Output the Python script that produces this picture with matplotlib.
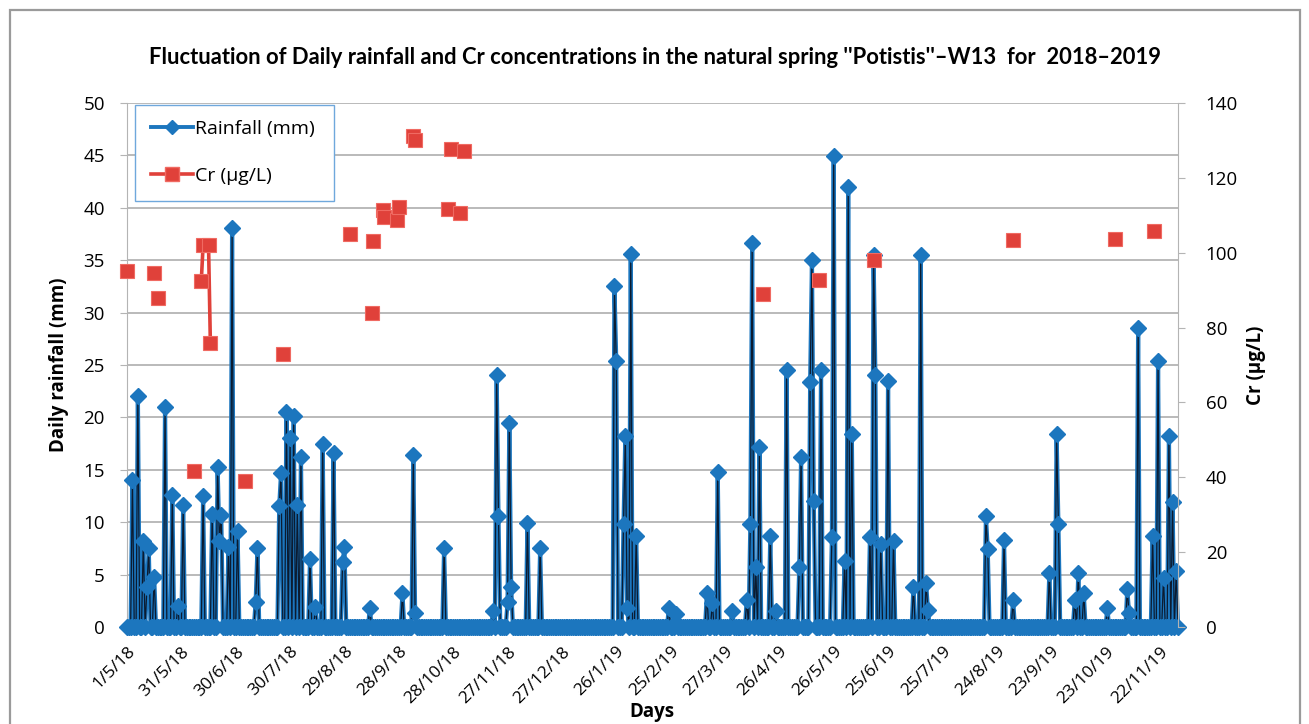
import numpy as np
import pandas as pd
import matplotlib
matplotlib.use("Agg")
import matplotlib.pyplot as plt
from matplotlib.lines import Line2D
from matplotlib.patches import Rectangle

# daily record starts 1 May 2018; days are counted from that date
start = pd.Timestamp("2018-05-01")
n_days = 581

# rainy days (day number, mm); all other days are 0 mm
rain_day = [3, 6, 9, 11, 12, 15, 21, 25, 28, 31, 42, 47, 50, 51, 52, 56, 58, 61, 71, 72,
            84, 85, 88, 90, 92, 94, 96, 101, 104, 108, 114, 119, 120, 134, 152, 158, 159,
            175, 202, 204, 205, 210, 211, 212, 221, 228,
            269, 270, 274, 275, 276, 278, 281, 299, 303, 320, 323, 326, 334, 342, 344, 345,
            347, 349, 355, 358, 364, 371, 372, 377, 378, 379, 383, 389, 390, 396, 398, 400,
            410, 412, 413, 416, 420, 423, 434, 438, 441, 442,
            474, 475, 484, 489, 509, 513, 514, 523, 525, 528, 541, 552, 553, 558, 566, 569,
            572, 575, 577, 579]
rain_mm = [14.0, 22.0, 8.2, 3.8, 7.5, 4.8, 21.0, 12.6, 2.0, 11.6, 12.5, 10.8, 15.3, 8.2, 10.7,
           7.6, 38.1, 9.2, 2.4, 7.5,
           11.5, 14.7, 20.5, 18.0, 20.1, 11.6, 16.2, 6.5, 1.9, 17.5, 16.6, 6.2, 7.6, 1.8, 3.2,
           16.4, 1.3,
           7.5, 1.5, 24.0, 10.6, 2.4, 19.5, 3.8, 9.9, 7.5,
           32.5, 25.4, 9.8, 18.2, 1.8, 35.6, 8.7, 1.8, 1.2, 3.2, 2.3, 14.8, 1.5, 2.6, 9.8, 36.6,
           5.7, 17.2, 8.7, 1.5, 24.5, 5.7, 16.2, 23.4, 35.0, 12.0, 24.5, 8.6, 44.9, 6.3, 42.0,
           18.4, 8.6, 35.5, 24.0, 7.9, 23.5, 8.2, 3.8, 35.5, 4.2, 1.6,
           10.6, 7.4, 8.3, 2.6, 5.2, 18.4, 9.8, 2.6, 5.2, 3.2, 1.8, 3.6, 1.3, 28.5, 8.7, 25.4,
           4.7, 18.2, 11.9, 5.3]

# Cr samples (day number, ug/L)
cr_day = [0, 15, 17, 37, 41, 42, 45, 46, 65, 86, 123, 135, 136, 141, 142, 149, 150, 158, 159,
          177, 179, 184, 186, 351, 382, 412, 489, 545, 567]
cr_val = [95.0, 94.5, 88.0, 41.6, 92.5, 102.0, 102.0, 76.0, 39.0, 73.0, 105.0, 84.0, 103.0,
          111.5, 109.5, 108.8, 112.2, 131.3, 130.0, 111.6, 127.8, 110.6, 127.3, 89.1, 92.6,
          98.0, 103.3, 103.6, 105.8]
# samples joined by a line in the series
cr_linked = [41, 42, 45, 46]

tick_days = list(range(0, 571, 30))

days = np.arange(n_days)
rain = np.zeros(n_days)
rain[rain_day] = rain_mm

blue = "#1C76BE"
red = "#E0413A"
grid_c = "#B4B4B4"
plt.rcParams["font.family"] = ["Open Sans", "DejaVu Sans"]

W, H = 1309, 724
fig = plt.figure(figsize=(W / 100, H / 100), dpi=100)
fig.patches.append(Rectangle((10 / W, -0.05), 1290 / W, 1.05 - 10 / H,
                             transform=fig.transFigure, fill=False,
                             edgecolor="#9A9A9A", lw=1.6))

ax = fig.add_axes([127 / W, 1 - 627 / H, 1051 / W, 524 / H])
ax2 = ax.twinx()

# rainfall: thick blue line, dark core, diamonds on every day
ax.plot(days, rain, color=blue, lw=3.0, zorder=3, clip_on=False)
ax.plot(days, rain, color="#0B1B30", lw=0.9, zorder=4, clip_on=False)
ax.plot(days, rain, ls="none", marker="D", ms=8, color=blue, mec=blue, zorder=5,
        clip_on=False)

# Cr concentrations on the right axis
ax2.plot(cr_day, cr_val, ls="none", marker="s", ms=10, color=red, mec="#F06A62",
         mew=0.8, zorder=6, clip_on=False)
link_val = [v for d, v in zip(cr_day, cr_val) if d in cr_linked]
ax2.plot(cr_linked, link_val, color=red, lw=2.6, zorder=5)

ax.set_xlim(0, n_days - 1)
ax.set_ylim(0, 50)
ax2.set_ylim(0, 140)
ax.set_yticks(np.arange(0, 51, 5))
ax2.set_yticks(np.arange(0, 141, 20))
ax.yaxis.grid(True, color=grid_c, lw=1.3, zorder=0)
ax.set_axisbelow(True)

tick_labels = []
for d in tick_days:
    t = start + pd.Timedelta(days=d)
    tick_labels.append(f"{t.day}/{t.month}/{t.year % 100}")
ax.set_xticks(tick_days)
ax.set_xticklabels(tick_labels, rotation=45, ha="right", rotation_mode="anchor",
                   fontsize=12.5)
ax.tick_params(axis="x", length=0, pad=12)
ax.tick_params(axis="y", labelsize=13.5, length=5, color=grid_c, pad=11)
ax2.tick_params(axis="y", labelsize=13.5, length=5, color=grid_c, pad=15)

for s in ["top", "right"]:
    ax.spines[s].set_visible(False)
ax.spines["left"].set_color(grid_c)
ax.spines["bottom"].set_color(grid_c)
for s in ["top", "left", "bottom"]:
    ax2.spines[s].set_visible(False)
ax2.spines["right"].set_color(grid_c)

ax.set_ylabel("Daily rainfall (mm)", fontsize=13.5, fontweight="bold", labelpad=10)
ax2.set_ylabel("Cr (µg/L)", fontsize=13.5, fontweight="bold", labelpad=6)
fig.text(652 / W, 1 - 712 / H, "Days", ha="center", va="center",
         fontsize=13.5, fontweight="bold")

title = fig.text(655 / W, 1 - 58 / H,
                 "Fluctuation of Daily rainfall and Cr concentrations in the natural spring "
                 "''Potistis''\u2013W13  for  2018\u20132019",
                 ha="center", va="center", fontsize=16, fontweight="bold",
                 family=["Lato", "DejaVu Sans"])
# shrink the title so it spans the same width as the heading line
fig.canvas.draw()
tw = title.get_window_extent().width
title.set_fontsize(16 * 1016 / tw)

handles = [
    Line2D([], [], color=blue, lw=2.8, marker="D", ms=7, mec=blue),
    Line2D([], [], color=red, lw=2.6, marker="s", ms=10, mec="#F06A62"),
]
leg = ax2.legend(handles, ["Rainfall (mm)", "Cr (µg/L)"], loc="upper left",
                 bbox_to_anchor=(0.0076, 0.997, 0.189, 0.0), mode="expand",
                 fontsize=14, frameon=True, fancybox=False, framealpha=1,
                 edgecolor="#6FA8DC", borderpad=0.8, labelspacing=1.5,
                 handlelength=2.2, handletextpad=0.1, borderaxespad=0)
leg.get_frame().set_linewidth(1.0)
leg.set_zorder(10)

fig.savefig("out.png", dpi=100)
